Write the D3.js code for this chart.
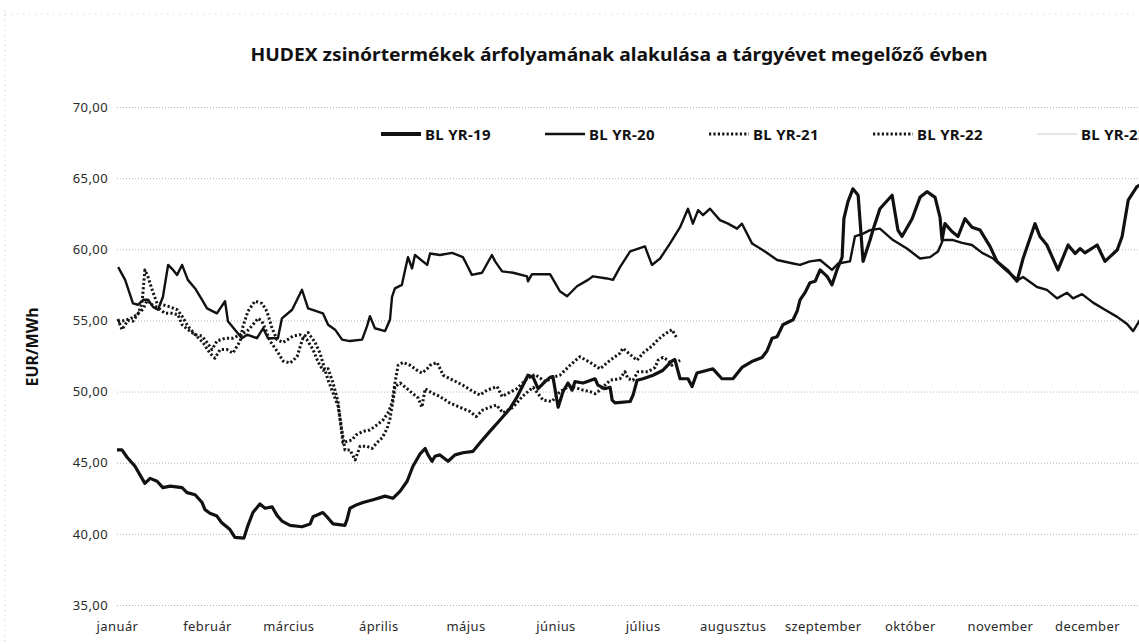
<!DOCTYPE html>
<html>
<head>
<meta charset="utf-8">
<script src="https://cdn.jsdelivr.net/npm/d3@7"></script>
<style>
  html, body { margin: 0; padding: 0; background: #fff; overflow: hidden; }
  svg { display: block; font-family: "Noto Sans", sans-serif; }
</style>
</head>
<body>
<svg width="1139" height="644"></svg>
<script>
// ---- data (day of year, EUR/MWh) ----
var monthNames = ["január", "február", "március", "április", "május", "június",
                  "július", "augusztus", "szeptember", "október", "november", "december"];
var monthStarts = [0, 31, 59, 90, 120, 151, 181, 212, 243, 273, 304, 334];
var yTicks = [35, 40, 45, 50, 55, 60, 65, 70];
var seriesNames = ["BL YR-19", "BL YR-20", "BL YR-21", "BL YR-22", "BL YR-23"];

var yr19 = [
  [0, 45.9], [1.7, 45.9], [3.4, 45.4], [6.2, 44.75], [8.6, 43.9], [9.6, 43.55], [11.4, 43.9],
  [13.8, 43.7], [15.8, 43.25], [18.3, 43.35], [22.4, 43.25], [24.1, 42.9], [26.9, 42.75],
  [29.3, 42.2], [30.3, 41.7], [32.0, 41.45], [34.4, 41.25], [36.0, 40.8], [38.9, 40.3],
  [40.6, 39.75], [43.7, 39.7], [45.1, 40.6], [46.8, 41.5], [49.2, 42.1], [51.0, 41.8],
  [53.4, 41.9], [55.1, 41.3], [56.8, 40.9], [59.6, 40.6], [63.7, 40.5], [66.5, 40.7],
  [67.5, 41.2], [70.9, 41.5], [72.7, 41.1], [74.4, 40.7], [78.5, 40.6], [79.2, 41.0],
  [80.2, 41.8], [82.6, 42.05], [84.7, 42.2], [88.2, 42.4], [92.3, 42.65], [95.0, 42.5],
  [97.5, 43.0], [99.9, 43.7], [101.9, 44.75], [104.3, 45.6], [106.1, 46.0], [107.1, 45.55],
  [108.5, 45.1], [109.5, 45.45], [111.2, 45.55], [114.0, 45.1], [116.4, 45.55], [119.1, 45.7],
  [122.6, 45.8], [125.0, 46.4], [128.4, 47.2], [131.9, 48.0], [135.3, 48.8], [137.7, 49.6],
  [139.8, 50.45], [141.5, 51.15], [143.3, 51.0], [145.0, 50.2], [147.4, 50.7], [149.1, 51.0],
  [150.1, 51.05], [151.9, 48.9], [153.6, 50.0], [155.3, 50.6], [156.7, 50.1], [157.7, 50.7],
  [160.5, 50.6], [164.6, 50.9], [165.6, 50.45], [168.0, 50.2], [169.8, 50.3], [170.5, 49.4],
  [171.5, 49.2], [176.7, 49.3], [177.7, 49.75], [179.1, 50.8], [181.1, 50.9], [184.6, 51.15],
  [188.0, 51.5], [191.1, 52.15], [192.1, 52.25], [193.9, 50.9], [196.6, 50.9], [198.0, 50.35],
  [199.7, 51.3], [205.2, 51.6], [208.3, 50.9], [212.1, 50.9], [215.2, 51.7], [219.0, 52.15],
  [222.1, 52.4], [223.8, 52.85], [225.6, 53.75], [227.3, 53.85], [229.3, 54.7], [232.8, 55.05],
  [234.2, 55.65], [235.2, 56.45], [236.9, 56.95], [238.6, 57.65], [240.4, 57.75], [242.1, 58.55],
  [244.5, 58.1], [246.2, 57.5], [247.9, 58.55], [249.7, 59.45], [250.3, 62.15], [251.7, 63.35],
  [253.4, 64.25], [255.2, 63.8], [256.9, 59.15], [259.3, 60.65], [260.3, 61.35], [262.7, 62.85],
  [266.9, 63.8], [268.9, 61.35], [270.3, 60.9], [273.8, 62.15], [276.5, 63.65], [278.9, 64.05],
  [281.7, 63.65], [283.4, 62.25], [284.1, 60.65], [285.1, 61.8], [287.5, 61.25], [289.6, 60.9],
  [292.0, 62.15], [294.4, 61.55], [297.2, 61.35], [300.6, 60.2], [303.0, 59.15], [306.5, 58.55],
  [309.9, 57.75], [312.0, 59.35], [316.1, 61.8], [317.8, 60.9], [320.2, 60.3], [324.0, 58.55],
  [327.5, 60.3], [329.9, 59.7], [331.6, 60.05], [333.3, 59.75], [337.5, 60.3], [340.2, 59.15],
  [344.4, 59.95], [346.1, 60.9], [348.2, 63.45], [351.2, 64.4], [353.0, 64.6]
];

var yr20 = [
  [0.4, 58.75], [2.8, 57.85], [5.5, 56.2], [7.2, 56.1], [9.0, 56.45], [10.7, 56.45], [12.4, 55.95],
  [14.1, 55.75], [15.8, 56.65], [17.6, 58.9], [19.3, 58.55], [20.7, 58.2], [22.4, 58.9],
  [24.4, 57.85], [26.9, 57.25], [29.3, 56.45], [31.0, 55.85], [34.4, 55.5], [37.2, 56.35],
  [38.2, 54.95], [40.6, 54.35], [43.0, 53.75], [44.8, 54.0], [48.2, 53.75], [50.3, 54.45],
  [52.0, 53.75], [55.4, 53.75], [56.8, 55.15], [60.3, 55.75], [63.7, 57.15], [65.8, 55.85],
  [70.9, 55.5], [72.7, 54.7], [75.1, 54.35], [77.5, 53.65], [80.2, 53.55], [84.4, 53.65],
  [86.1, 54.6], [87.1, 55.3], [88.8, 54.45], [92.3, 54.25], [94.0, 55.05], [94.7, 56.65],
  [95.7, 57.25], [98.1, 57.5], [99.2, 58.55], [100.2, 59.45], [101.6, 58.65], [102.6, 59.6],
  [106.8, 58.9], [107.8, 59.7], [111.2, 59.6], [115.4, 59.75], [119.1, 59.45], [120.5, 58.9],
  [122.2, 58.2], [125.7, 58.35], [129.1, 59.6], [130.2, 59.15], [132.6, 58.45], [136.4, 58.35],
  [141.2, 58.1], [141.5, 57.75], [142.9, 58.25], [149.1, 58.25], [150.8, 57.65], [152.5, 57.05],
  [155.0, 56.7], [158.4, 57.4], [162.2, 57.85], [163.9, 58.1], [168.7, 57.95], [170.8, 57.85],
  [173.2, 58.75], [176.7, 59.85], [181.8, 60.2], [184.2, 58.9], [187.0, 59.35], [190.4, 60.4],
  [193.9, 61.55], [196.6, 62.85], [198.3, 61.8], [200.1, 62.75], [201.8, 62.4], [204.2, 62.85],
  [207.6, 62.05], [210.4, 61.8], [213.5, 61.45], [215.2, 61.8], [218.7, 60.4], [223.1, 59.85],
  [227.3, 59.25], [232.8, 59.0], [235.2, 58.9], [238.6, 59.15], [242.1, 59.25], [246.2, 58.55],
  [248.3, 59.0], [252.4, 59.15], [254.1, 60.9], [256.9, 61.1], [259.3, 61.35], [262.7, 61.45],
  [267.2, 60.65], [272.0, 60.05], [276.5, 59.35], [280.0, 59.45], [282.7, 59.85], [284.4, 60.65],
  [287.9, 60.65], [291.0, 60.45], [294.4, 60.3], [297.9, 59.75], [301.7, 59.35], [306.5, 58.45],
  [310.3, 57.85], [312.0, 58.05], [316.8, 57.35], [320.2, 57.15], [323.7, 56.55], [327.1, 56.95],
  [329.2, 56.55], [332.3, 56.85], [336.1, 56.25], [340.2, 55.75], [344.4, 55.25], [347.8, 54.75],
  [349.9, 54.25], [352.3, 55.05]
];

var yr21 = [
  [0.3, 55.1], [1.7, 54.35], [3.8, 55.0], [5.5, 54.95], [7.2, 55.45], [8.6, 56.2], [9.6, 58.55],
  [10.7, 58.05], [12.1, 57.15], [13.8, 56.2], [15.8, 56.1], [18.3, 55.95], [20.7, 55.75],
  [22.4, 55.3], [24.4, 54.6], [26.9, 54.0], [29.6, 53.45], [32.0, 52.7], [33.7, 52.35],
  [35.5, 52.95], [37.9, 52.95], [39.9, 52.7], [42.4, 53.55], [43.4, 54.6], [45.1, 55.65],
  [47.5, 56.35], [49.9, 56.2], [51.6, 55.65], [53.4, 54.45], [55.1, 53.65], [57.2, 53.45],
  [60.6, 53.9], [63.0, 54.0], [65.4, 53.65], [67.5, 52.95], [69.2, 52.1], [70.9, 51.5],
  [72.7, 51.6], [74.4, 50.6], [76.1, 49.3], [77.8, 46.4], [79.2, 46.5], [80.9, 46.6],
  [82.3, 46.95], [84.7, 47.2], [87.1, 47.3], [89.5, 47.65], [91.6, 48.0], [93.3, 48.5],
  [94.7, 49.2], [95.7, 50.6], [96.8, 51.85], [98.5, 52.05], [100.9, 51.85], [103.3, 51.5],
  [105.0, 51.3], [106.8, 51.6], [107.8, 51.85], [110.2, 52.05], [112.3, 51.15], [115.7, 50.8],
  [119.1, 50.45], [122.6, 50.0], [125.0, 49.75], [127.4, 50.1], [130.9, 50.35], [132.6, 49.65],
  [134.3, 49.85], [137.7, 50.2], [141.2, 50.9], [143.9, 51.2], [147.4, 50.7], [150.1, 51.0],
  [152.5, 51.15], [156.0, 51.85], [159.4, 52.45], [162.9, 52.05], [166.3, 51.6], [169.8, 52.2],
  [173.2, 52.7], [174.2, 53.05], [176.7, 52.6], [179.1, 52.2], [181.1, 52.7], [184.2, 53.2],
  [186.3, 53.65], [188.7, 54.05], [191.1, 54.35], [192.8, 53.75]
];

var yr22 = [
  [0.3, 54.9], [2.8, 55.0], [5.5, 55.2], [7.9, 55.6], [9.0, 55.8], [10.3, 56.4], [12.1, 56.1],
  [14.1, 55.9], [16.5, 55.5], [18.9, 55.5], [21.0, 55.4], [22.4, 54.7], [24.4, 54.35],
  [26.9, 54.0], [29.3, 53.9], [31.0, 53.45], [32.7, 52.95], [34.4, 53.55], [37.2, 53.75],
  [39.9, 53.75], [42.4, 54.0], [44.8, 54.25], [46.8, 54.7], [48.6, 55.15], [49.9, 54.95],
  [51.0, 54.45], [52.7, 53.55], [55.1, 52.85], [57.2, 52.15], [59.6, 52.0], [62.0, 52.45],
  [64.0, 53.75], [65.8, 54.15], [68.2, 53.45], [69.9, 52.7], [70.9, 52.0], [72.7, 50.8],
  [74.4, 49.9], [76.1, 49.0], [78.5, 45.9], [80.2, 45.9], [82.0, 45.2], [83.7, 46.15],
  [86.1, 46.15], [87.8, 46.0], [89.5, 46.4], [91.3, 46.75], [93.0, 47.4], [94.0, 48.1],
  [95.0, 49.3], [95.7, 50.35], [97.5, 50.6], [99.9, 50.2], [101.9, 49.85], [103.7, 49.55],
  [105.0, 48.9], [106.1, 50.2], [108.5, 49.9], [111.2, 49.65], [114.6, 49.2], [118.0, 48.9],
  [121.5, 48.6], [123.7, 48.25], [125.9, 48.7], [128.4, 48.9], [130.7, 49.05], [132.9, 48.5],
  [136.4, 48.9], [139.8, 49.7], [143.3, 50.3], [146.7, 49.4], [149.8, 49.3], [152.5, 50.0],
  [156.0, 50.4], [160.5, 50.1], [162.9, 50.0], [164.6, 49.85], [166.3, 50.1], [169.8, 50.8],
  [173.2, 50.9], [174.9, 51.4], [176.0, 50.9], [177.7, 50.8], [179.4, 51.4], [182.9, 51.4],
  [185.3, 51.7], [186.3, 52.2], [188.0, 52.4], [189.7, 52.2], [191.1, 51.85], [193.9, 52.2]
];

var yr23 = [];   // legend entry only, no visible line in the scan

var series = [yr19, yr20, yr21, yr22, yr23];
var strokes = ["#111", "#111", "#161616", "#161616", "#e4e4e4"];
var widths = [3.2, 2.4, 3, 3, 2];
var dashes = [null, null, "2.2,2.2", "2.2,2.2", null];

// ---- drawing ----
var svg = d3.select("svg");

// the plot area runs past the right edge of the page, like the cropped scan
var x = d3.scaleLinear().domain([0, 365]).range([117, 1177]);
var y = d3.scaleLinear().domain([35, 70]).range([605, 107]);

// faint scan border
svg.append("line").attr("x1", 5).attr("x2", 5).attr("y1", 10).attr("y2", 644)
   .attr("stroke", "#c8c8c8").attr("stroke-dasharray", "1,4");
svg.append("line").attr("x1", 5).attr("x2", 1139).attr("y1", 14).attr("y2", 14)
   .attr("stroke", "#d0d0d0").attr("stroke-dasharray", "1,5");

// horizontal grid lines
svg.append("g")
   .attr("transform", "translate(" + x.range()[0] + ",0)")
   .call(d3.axisLeft(y).tickValues(yTicks).tickSize(-(x.range()[1] - x.range()[0])).tickFormat(""))
   .call(function(g) {
      g.select(".domain").remove();
      g.selectAll("line").attr("stroke", "#b4b4b4").attr("stroke-width", 1).attr("stroke-dasharray", "1,2");
   });

// y axis labels
svg.append("g")
   .attr("transform", "translate(" + x.range()[0] + ",0)")
   .call(d3.axisLeft(y).tickValues(yTicks).tickSize(0).tickPadding(9)
      .tickFormat(function(d) { return d3.format(".2f")(d).replace(".", ","); }))
   .call(function(g) {
      g.select(".domain").remove();
      g.selectAll("text").attr("font-size", 13).attr("fill", "#2a2a2a")
       .attr("font-family", "Noto Sans, sans-serif").attr("letter-spacing", 0.4);
   });

// x axis month labels
svg.append("g")
   .attr("transform", "translate(0," + y(35) + ")")
   .call(d3.axisBottom(x).tickValues(monthStarts).tickSize(0).tickPadding(17)
      .tickFormat(function(d, i) { return monthNames[i]; }))
   .call(function(g) {
      g.select(".domain").remove();
      g.selectAll("text").attr("font-size", 13).attr("fill", "#2a2a2a")
       .attr("font-family", "Noto Sans, sans-serif").attr("letter-spacing", 0.4);
   });

// series lines
var line = d3.line()
   .x(function(d) { return x(d[0]); })
   .y(function(d) { return y(d[1]); });

svg.append("g").selectAll("path")
   .data(series)
   .enter()
   .append("path")
   .attr("d", function(d) { return d.length ? line(d) : null; })
   .attr("fill", "none")
   .attr("stroke", function(d, i) { return strokes[i]; })
   .attr("stroke-width", function(d, i) { return widths[i]; })
   .attr("stroke-dasharray", function(d, i) { return dashes[i]; })
   .attr("stroke-linejoin", "round");

// title
svg.append("text")
   .attr("x", 619).attr("y", 61)
   .attr("text-anchor", "middle")
   .attr("font-size", 18).attr("font-weight", "bold").attr("fill", "#111")
   .attr("textLength", 737).attr("lengthAdjust", "spacingAndGlyphs")
   .text("HUDEX zsinórtermékek árfolyamának alakulása a tárgyévet megelőző évben");

// y axis title
svg.append("text")
   .attr("transform", "translate(38," + 347 + ") rotate(-90)")
   .attr("text-anchor", "middle")
   .attr("font-size", 16).attr("font-weight", "bold").attr("fill", "#111")
   .text("EUR/MWh");

// legend (the last entry is cut by the page edge, as in the scan)
var legend = svg.append("g").attr("transform", "translate(381,134)");
var item = legend.selectAll("g")
   .data(seriesNames)
   .enter()
   .append("g")
   .attr("transform", function(d, i) { return "translate(" + (i * 164) + ",0)"; });

item.append("line")
   .attr("x1", 0).attr("x2", 40).attr("y1", 0).attr("y2", 0)
   .attr("stroke", function(d, i) { return strokes[i]; })
   .attr("stroke-width", function(d, i) { return i === 0 ? 4 : widths[i]; })
   .attr("stroke-dasharray", function(d, i) { return dashes[i]; });

item.append("text")
   .attr("x", 44).attr("y", 5.5)
   .attr("font-size", 15).attr("font-weight", "bold").attr("fill", "#111")
   .attr("letter-spacing", 0.3)
   .text(function(d) { return d; });
</script>
</body>
</html>
